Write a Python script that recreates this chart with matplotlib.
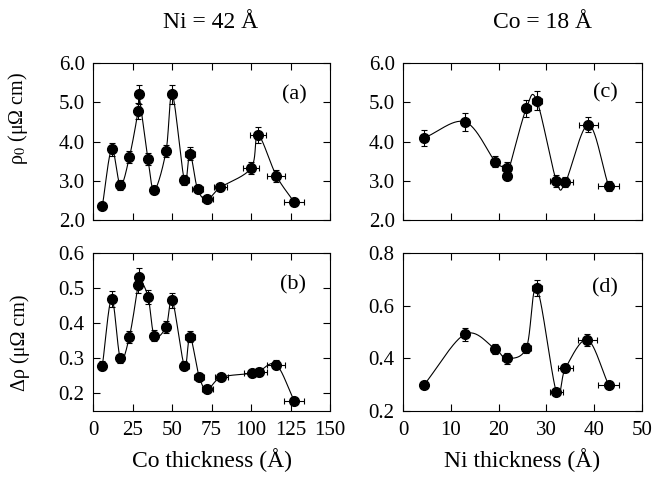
import matplotlib
matplotlib.use('Agg')
import matplotlib.pyplot as plt
import numpy as np

plt.rcParams['font.family'] = ['Liberation Serif', 'DejaVu Serif']
plt.rcParams['mathtext.fontset'] = 'stix'

# panel (a): rho_0 vs Co thickness (Ni = 42 A)
a_x = [5.9, 11.8, 17.3, 23.0, 28.5, 29.0, 34.8, 38.8, 46.2, 50.2, 57.8, 61.4, 66.2, 72.3, 80.6, 100.0, 104.4, 116.0, 127.2]
a_y = [2.36, 3.80, 2.89, 3.60, 4.78, 5.20, 3.55, 2.76, 3.75, 5.20, 3.02, 3.69, 2.78, 2.53, 2.83, 3.32, 4.17, 3.13, 2.46]
a_yerr = [0.08, 0.17, 0.12, 0.15, 0.2, 0.25, 0.15, 0.1, 0.15, 0.25, 0.12, 0.17, 0.1, 0.08, 0.1, 0.15, 0.2, 0.15, 0.1]
a_xerr = [0.3, 0.6, 0.9, 1.2, 1.4, 1.4, 1.7, 1.9, 2.3, 2.5, 2.9, 3.1, 3.3, 3.6, 4.0, 5.0, 5.2, 5.8, 6.4]

# panel (b): delta rho vs Co thickness
b_x = [5.9, 11.8, 17.3, 23.0, 28.5, 29.0, 34.8, 38.8, 46.2, 50.2, 57.8, 61.4, 67.2, 72.3, 81.2, 100.8, 105.0, 116.0, 127.4]
b_y = [0.279, 0.469, 0.300, 0.361, 0.509, 0.531, 0.476, 0.365, 0.389, 0.465, 0.279, 0.362, 0.247, 0.212, 0.246, 0.257, 0.262, 0.282, 0.178]
b_yerr = [0.012, 0.022, 0.012, 0.016, 0.022, 0.025, 0.02, 0.016, 0.017, 0.022, 0.012, 0.016, 0.01, 0.008, 0.01, 0.01, 0.011, 0.012, 0.008]
b_xerr = [0.3, 0.6, 0.9, 1.2, 1.4, 1.4, 1.7, 1.9, 2.3, 2.5, 2.9, 3.1, 3.3, 3.6, 4.0, 5.0, 5.2, 5.8, 6.4]

# panel (c): rho_0 vs Ni thickness (Co = 18 A)
c_x = [4.4, 13.0, 19.3, 21.7, 21.8, 25.8, 28.0, 32.1, 34.0, 38.8, 43.0]
c_y = [4.09, 4.50, 3.49, 3.32, 3.13, 4.85, 5.04, 2.99, 2.97, 4.43, 2.87]
c_yerr = [0.2, 0.22, 0.15, 0.17, 0.12, 0.22, 0.25, 0.15, 0.13, 0.2, 0.13]
c_xerr = [0.2, 0.6, 0.8, 0.9, 0.9, 1.0, 1.1, 1.3, 1.5, 2.0, 2.2]

# panel (d): delta rho vs Ni thickness
d_x = [4.4, 13.0, 19.3, 21.7, 25.8, 28.0, 32.1, 34.0, 38.6, 43.0]
d_y = [0.299, 0.492, 0.435, 0.400, 0.439, 0.666, 0.272, 0.363, 0.470, 0.300]
d_yerr = [0.01, 0.025, 0.02, 0.02, 0.02, 0.03, 0.01, 0.015, 0.022, 0.01]
d_xerr = [0.2, 0.6, 0.8, 0.9, 1.0, 1.1, 1.3, 1.5, 2.0, 2.2]


def smooth_curve(x, y, n=30):
    # uniform Catmull-Rom through the points, in order
    p = np.column_stack([x, y]).astype(float)
    p = np.vstack([2 * p[0] - p[1], p, 2 * p[-1] - p[-2]])
    t = np.linspace(0, 1, n)[:, None]
    out = []
    for i in range(1, len(p) - 2):
        p0, p1, p2, p3 = p[i - 1], p[i], p[i + 1], p[i + 2]
        seg = 0.5 * ((2 * p1) + (-p0 + p2) * t + (2 * p0 - 5 * p1 + 4 * p2 - p3) * t ** 2
                     + (-p0 + 3 * p1 - 3 * p2 + p3) * t ** 3)
        out.append(seg)
    out = np.vstack(out)
    return out[:, 0], out[:, 1]


def draw_panel(ax, x, y, xerr, yerr, label, label_y):
    sx, sy = smooth_curve(x, y)
    ax.plot(sx, sy, color='black', linewidth=0.8)
    ax.errorbar(x, y, xerr=xerr, yerr=yerr, fmt='o', color='black', markersize=7,
                elinewidth=0.8, capsize=2.5, capthick=0.8)
    ax.text(0.9, label_y, label, transform=ax.transAxes, ha='right', va='center', fontsize=16)
    ax.tick_params(direction='in', top=True, right=True, length=5, width=0.8, labelsize=15)
    ax.tick_params(axis='x', pad=7)
    ax.tick_params(axis='y', pad=6)
    for s in ax.spines.values():
        s.set_linewidth(0.8)


fig = plt.figure(figsize=(6.63, 4.78), dpi=100)
ax_a = fig.add_axes([0.1403, 0.5397, 0.3575, 0.3285])
ax_b = fig.add_axes([0.1403, 0.1402, 0.3575, 0.3305])
ax_c = fig.add_axes([0.6078, 0.5397, 0.3605, 0.3285])
ax_d = fig.add_axes([0.6078, 0.1402, 0.3605, 0.3305])

draw_panel(ax_a, a_x, a_y, a_xerr, a_yerr, '(a)', 0.8)
draw_panel(ax_b, b_x, b_y, b_xerr, b_yerr, '(b)', 0.8)
draw_panel(ax_c, c_x, c_y, c_xerr, c_yerr, '(c)', 0.81)
draw_panel(ax_d, d_x, d_y, d_xerr, d_yerr, '(d)', 0.78)

for ax in (ax_a, ax_b):
    ax.set_xlim(0, 150)
    ax.set_xticks(np.arange(0, 151, 25))
for ax in (ax_c, ax_d):
    ax.set_xlim(0, 50)
    ax.set_xticks(np.arange(0, 51, 10))
for ax in (ax_a, ax_c):
    ax.set_ylim(2.0, 6.0)
    ax.set_yticks([2.0, 3.0, 4.0, 5.0, 6.0])
    ax.set_yticklabels(['2.0', '3.0', '4.0', '5.0', '6.0'])
    ax.set_xticklabels([])
ax_b.set_ylim(0.15, 0.6)
ax_b.set_yticks([0.2, 0.3, 0.4, 0.5, 0.6])
ax_b.set_yticklabels(['0.2', '0.3', '0.4', '0.5', '0.6'])
ax_d.set_ylim(0.2, 0.8)
ax_d.set_yticks([0.2, 0.4, 0.6, 0.8])
ax_d.set_yticklabels(['0.2', '0.4', '0.6', '0.8'])

ax_a.set_ylabel('ρ$_0$ (μΩ cm)', fontsize=14.5)
ax_b.set_ylabel('Δρ (μΩ cm)', fontsize=14.5)
ax_a.yaxis.set_label_coords(-0.265, 0.65)
ax_b.yaxis.set_label_coords(-0.265, 0.43)
ax_b.set_xlabel('Co thickness (Å)', fontsize=17, labelpad=6)
ax_d.set_xlabel('Ni thickness (Å)', fontsize=17, labelpad=6)

fig.text(0.318, 1 - 23 / 478, 'Ni = 42 Å', ha='center', va='center', fontsize=17)
fig.text(0.8175, 1 - 23 / 478, 'Co = 18 Å', ha='center', va='center', fontsize=17)

fig.savefig('out.png', dpi=100)
